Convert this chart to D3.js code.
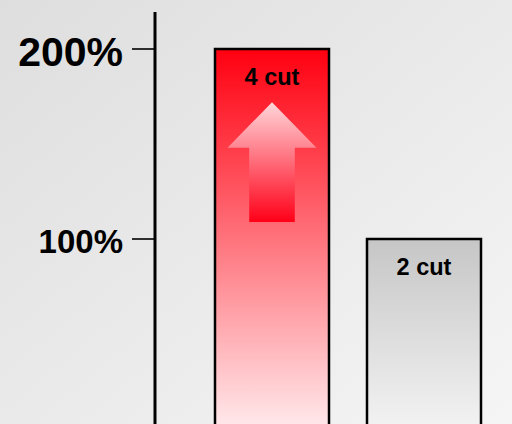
<!DOCTYPE html>
<html>
<head>
<meta charset="utf-8">
<script src="https://cdn.jsdelivr.net/npm/d3@7"></script>
<style>
  html, body { margin: 0; padding: 0; }
  svg { display: block; }
</style>
</head>
<body>
<svg width="512" height="424"></svg>
<script>
// data
const categories = ["4 cut", "2 cut"];
const values = [200, 100];
const tickValues = [100, 200];
const tickLabels = ["100%", "200%"];

const svg = d3.select("svg"),
    width = +svg.attr("width"),
    height = +svg.attr("height");

const defs = svg.append("defs");

// background
const bg = defs.append("linearGradient").attr("id", "bg")
    .attr("x1", "0").attr("y1", "0").attr("x2", "1").attr("y2", "1");
bg.append("stop").attr("offset", "0%").attr("stop-color", "#dedede");
bg.append("stop").attr("offset", "100%").attr("stop-color", "#f5f5f5");

// red bar gradient
const redG = defs.append("linearGradient").attr("id", "redBar")
    .attr("x1", "0").attr("y1", "0").attr("x2", "0").attr("y2", "1");
redG.append("stop").attr("offset", "0%").attr("stop-color", "#ff0010");
redG.append("stop").attr("offset", "45%").attr("stop-color", "#ff6a74");
redG.append("stop").attr("offset", "100%").attr("stop-color", "#fff0f2");

// gray bar gradient
const grayG = defs.append("linearGradient").attr("id", "grayBar")
    .attr("x1", "0").attr("y1", "0").attr("x2", "0").attr("y2", "1");
grayG.append("stop").attr("offset", "0%").attr("stop-color", "#c6c6c6");
grayG.append("stop").attr("offset", "100%").attr("stop-color", "#f5f5f5");

// arrow gradient
const arrG = defs.append("linearGradient").attr("id", "arrow")
    .attr("x1", "0").attr("y1", "0").attr("x2", "0").attr("y2", "1");
arrG.append("stop").attr("offset", "0%").attr("stop-color", "#ffd6da");
arrG.append("stop").attr("offset", "100%").attr("stop-color", "#ff0018");

svg.append("rect").attr("width", width).attr("height", height).attr("fill", "url(#bg)");

// scales
const y = d3.scaleLinear().domain([0, 200]).range([429, 49]);
const x = d3.scaleBand().domain(categories).range([215, 481]).paddingInner(0.25).paddingOuter(0);

const fills = ["url(#redBar)", "url(#grayBar)"];

// bars
svg.selectAll("rect.bar")
  .data(values)
  .join("rect")
    .attr("class", "bar")
    .attr("x", (d, i) => x(categories[i]))
    .attr("y", d => y(d))
    .attr("width", x.bandwidth())
    .attr("height", d => y(0) - y(d) + 10)
    .attr("fill", (d, i) => fills[i])
    .attr("stroke", "#000")
    .attr("stroke-width", 2.5);

// arrow inside the first bar
const cx = x(categories[0]) + x.bandwidth() / 2;
const bw = x.bandwidth();
const arrowPath = d3.path();
arrowPath.moveTo(cx, y(172));
arrowPath.lineTo(cx + bw * 0.39, y(148));
arrowPath.lineTo(cx + bw * 0.2, y(148));
arrowPath.lineTo(cx + bw * 0.2, y(109));
arrowPath.lineTo(cx - bw * 0.2, y(109));
arrowPath.lineTo(cx - bw * 0.2, y(148));
arrowPath.lineTo(cx - bw * 0.39, y(148));
arrowPath.closePath();
svg.append("path").attr("d", arrowPath.toString()).attr("fill", "url(#arrow)");

// bar labels
svg.selectAll("text.lbl")
  .data(values)
  .join("text")
    .attr("class", "lbl")
    .attr("x", (d, i) => x(categories[i]) + x.bandwidth() / 2)
    .attr("y", d => y(d) + 36)
    .attr("text-anchor", "middle")
    .attr("font-family", "Liberation Sans, Arial, sans-serif")
    .attr("font-weight", "bold")
    .attr("font-size", 23.5)
    .attr("fill", "#000")
    .text((d, i) => categories[i]);

// axis
const axisX = 155;
svg.append("line")
    .attr("x1", axisX).attr("x2", axisX)
    .attr("y1", 12).attr("y2", height)
    .attr("stroke", "#000").attr("stroke-width", 3);

const tickSizes = [33, 41];
tickValues.forEach((v, i) => {
  svg.append("line")
    .attr("x1", axisX - 23).attr("x2", axisX)
    .attr("y1", y(v)).attr("y2", y(v))
    .attr("stroke", "#000").attr("stroke-width", 1.6);
  svg.append("text")
    .attr("x", 123)
    .attr("y", y(v) + tickSizes[i] * 0.42)
    .attr("text-anchor", "end")
    .attr("font-family", "Liberation Sans, Arial, sans-serif")
    .attr("font-weight", "bold")
    .attr("font-size", tickSizes[i])
    .attr("fill", "#000")
    .text(tickLabels[i]);
});
</script>
</body>
</html>
